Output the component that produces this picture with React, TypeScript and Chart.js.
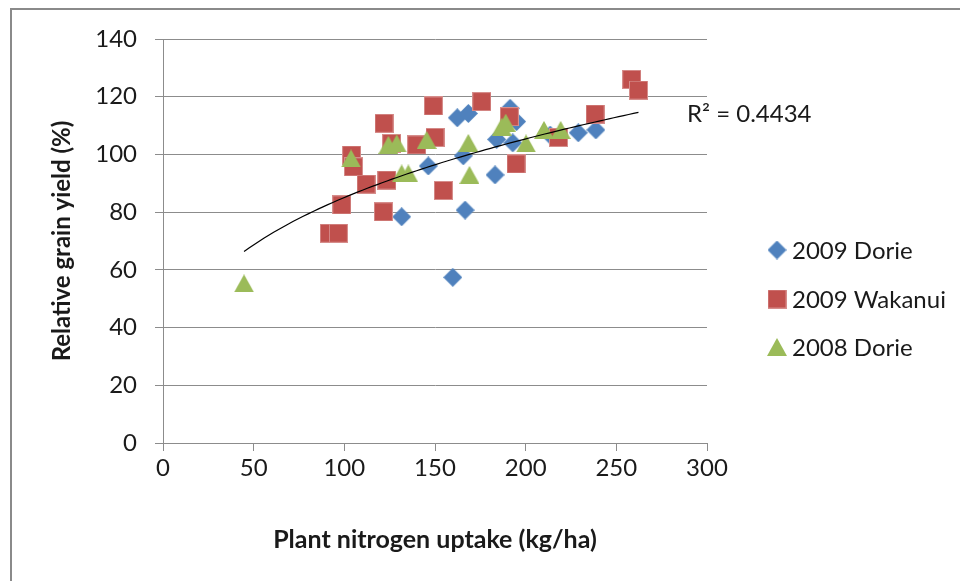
import React, { useEffect, useRef } from 'react';
import { Chart, registerables } from 'chart.js';

Chart.register(...registerables);

// ---- Data ----
const dorie2009X = [131.6, 146.3, 159.8, 162.3, 168.4, 165.6, 166.6, 183.1, 184.0, 191.4, 195.0, 192.9, 213.5, 229.0, 238.7];
const dorie2009Y = [78.4, 96.0, 57.4, 112.7, 114.2, 99.5, 80.7, 92.9, 105.2, 116.0, 111.4, 104.0, 106.7, 107.5, 108.5];

const wakanui2009X = [91.7, 96.7, 98.6, 104.0, 105.0, 112.0, 121.5, 121.9, 123.4, 126.1, 139.9, 149.1, 150.0, 154.6, 175.8, 191.0, 194.7, 218.1, 238.3, 258.5, 262.2];
const wakanui2009Y = [72.7, 72.7, 82.5, 99.8, 95.7, 89.7, 80.1, 110.8, 91.1, 103.8, 103.3, 116.8, 105.9, 87.5, 118.3, 113.1, 96.7, 105.9, 114.0, 126.0, 122.3];

const dorie2008X = [44.7, 103.7, 124.3, 128.9, 131.6, 135.3, 145.4, 168.4, 169.0, 186.8, 189.0, 200.2, 210.1, 219.3];
const dorie2008Y = [55.3, 98.6, 103.3, 103.8, 93.4, 93.4, 105.0, 104.0, 92.9, 109.6, 111.0, 103.8, 108.5, 108.5];

const seriesNames = ['2009 Dorie', '2009 Wakanui', '2008 Dorie'];
const seriesColors = ['#4F81BD', '#C0504D', '#9BBB59'];

// power trendline y = a * x^b
const trendCoefA = 20.5;
const trendCoefB = 0.309;
const trendRange = [44.7, 262.2];
const rSquaredLabel = 'R\u00B2 = 0.4434';

const xMin = 0, xMax = 300, xStep = 50;
const yMin = 0, yMax = 140, yStep = 20;
const xTitle = 'Plant nitrogen uptake (kg/ha)';
const yTitle = 'Relative grain yield (%)';

const FONT = 'Lato, "Open Sans", "DejaVu Sans", sans-serif';
const TEXT = '#1a1a1a';
const GRID = '#8c8c8c';

function toPoints(xs: number[], ys: number[]) {
  return xs.map((x, i) => ({ x, y: ys[i] }));
}

function makeMarker(kind: 'diamond' | 'square' | 'triangle', color: string): HTMLCanvasElement {
  const c = document.createElement('canvas');
  const ctx = c.getContext('2d')!;
  if (kind === 'diamond') {
    c.width = 19; c.height = 19;
    ctx.fillStyle = color;
    ctx.beginPath();
    ctx.moveTo(9.5, 0); ctx.lineTo(19, 9.5); ctx.lineTo(9.5, 19); ctx.lineTo(0, 9.5);
    ctx.closePath(); ctx.fill();
  } else if (kind === 'square') {
    c.width = 19; c.height = 19;
    ctx.fillStyle = color;
    ctx.fillRect(0, 0, 19, 19);
    ctx.strokeStyle = 'rgba(255,255,255,0.35)';
    ctx.lineWidth = 1;
    ctx.strokeRect(0.5, 0.5, 18, 18);
  } else {
    c.width = 20; c.height = 18;
    ctx.fillStyle = color;
    ctx.beginPath();
    ctx.moveTo(10, 0); ctx.lineTo(20, 18); ctx.lineTo(0, 18);
    ctx.closePath(); ctx.fill();
  }
  return c;
}

export default function App() {
  const ref = useRef<HTMLCanvasElement>(null);

  useEffect(() => {
    document.body.style.margin = '0';
    const canvas = ref.current!;
    const markers = [
      makeMarker('diamond', seriesColors[0]),
      makeMarker('square', seriesColors[1]),
      makeMarker('triangle', seriesColors[2]),
    ];

    const trend: { x: number; y: number }[] = [];
    const steps = 80;
    for (let i = 0; i <= steps; i++) {
      const x = trendRange[0] + ((trendRange[1] - trendRange[0]) * i) / steps;
      trend.push({ x, y: trendCoefA * Math.pow(x, trendCoefB) });
    }

    const decor = {
      id: 'decor',
      afterDraw(chart: any) {
        const ctx = chart.ctx as CanvasRenderingContext2D;
        ctx.save();
        // outer frame
        ctx.strokeStyle = '#8a8a8a';
        ctx.lineWidth = 2;
        ctx.beginPath();
        ctx.moveTo(11, 600);
        ctx.lineTo(11, 9);
        ctx.lineTo(980, 9);
        ctx.stroke();
        // legend
        const legendY = [250, 299, 347];
        ctx.font = `24px ${FONT}`;
        ctx.fillStyle = TEXT;
        ctx.textBaseline = 'middle';
        ctx.textAlign = 'left';
        for (let i = 0; i < 3; i++) {
          const m = markers[i];
          ctx.drawImage(m, 777 - m.width / 2, legendY[i] - m.height / 2);
          ctx.fillText(seriesNames[i], 792, legendY[i] + 1);
        }
        // R squared label
        ctx.fillText(rSquaredLabel, 687, 114);
        ctx.restore();
      },
    };

    const chart = new Chart(canvas, {
      type: 'scatter',
      data: {
        datasets: [
          {
            label: seriesNames[0],
            data: toPoints(dorie2009X, dorie2009Y),
            pointStyle: markers[0] as any,
            pointRadius: 10,
            backgroundColor: seriesColors[0],
            order: 3,
          },
          {
            label: seriesNames[1],
            data: toPoints(wakanui2009X, wakanui2009Y),
            pointStyle: markers[1] as any,
            pointRadius: 10,
            backgroundColor: seriesColors[1],
            order: 2,
          },
          {
            label: seriesNames[2],
            data: toPoints(dorie2008X, dorie2008Y),
            pointStyle: markers[2] as any,
            pointRadius: 10,
            backgroundColor: seriesColors[2],
            order: 1,
          },
          {
            label: 'trend',
            data: trend,
            showLine: true,
            pointRadius: 0,
            borderColor: '#000000',
            borderWidth: 1.2,
            fill: false,
            order: 0,
          } as any,
        ],
      },
      options: {
        responsive: false,
        animation: false,
        layout: { padding: { top: 39, right: 253, bottom: 20, left: 0 } },
        plugins: { legend: { display: false }, tooltip: { enabled: false } },
        scales: {
          x: {
            type: 'linear',
            min: xMin,
            max: xMax,
            ticks: { stepSize: xStep, font: { family: FONT, size: 24 }, color: TEXT, padding: 3 },
            grid: { drawOnChartArea: false, drawTicks: true, tickLength: 8, color: GRID },
            border: { color: GRID, width: 1 },
            title: {
              display: true,
              text: xTitle,
              font: { family: FONT, size: 25, weight: 'bold' },
              color: TEXT,
              padding: { top: 0, bottom: 6 },
            },
            afterFit: (s: any) => { s.height = 118; },
          },
          y: {
            type: 'linear',
            min: yMin,
            max: yMax,
            ticks: { stepSize: yStep, font: { family: FONT, size: 24 }, color: TEXT, padding: 18 },
            grid: { drawOnChartArea: true, drawTicks: true, tickLength: 8, color: GRID },
            border: { color: GRID, width: 1 },
            title: {
              display: true,
              text: yTitle,
              font: { family: FONT, size: 24, weight: 'bold' },
              color: TEXT,
              padding: { top: 48, bottom: 0 },
            },
            afterFit: (s: any) => { s.width = 163; },
          },
        },
      },
      plugins: [decor],
    });

    return () => chart.destroy();
  }, []);

  return (
    <div style={{ width: 960, height: 581, background: '#ffffff' }}>
      <canvas ref={ref} width={960} height={581} style={{ display: 'block' }} />
    </div>
  );
}
